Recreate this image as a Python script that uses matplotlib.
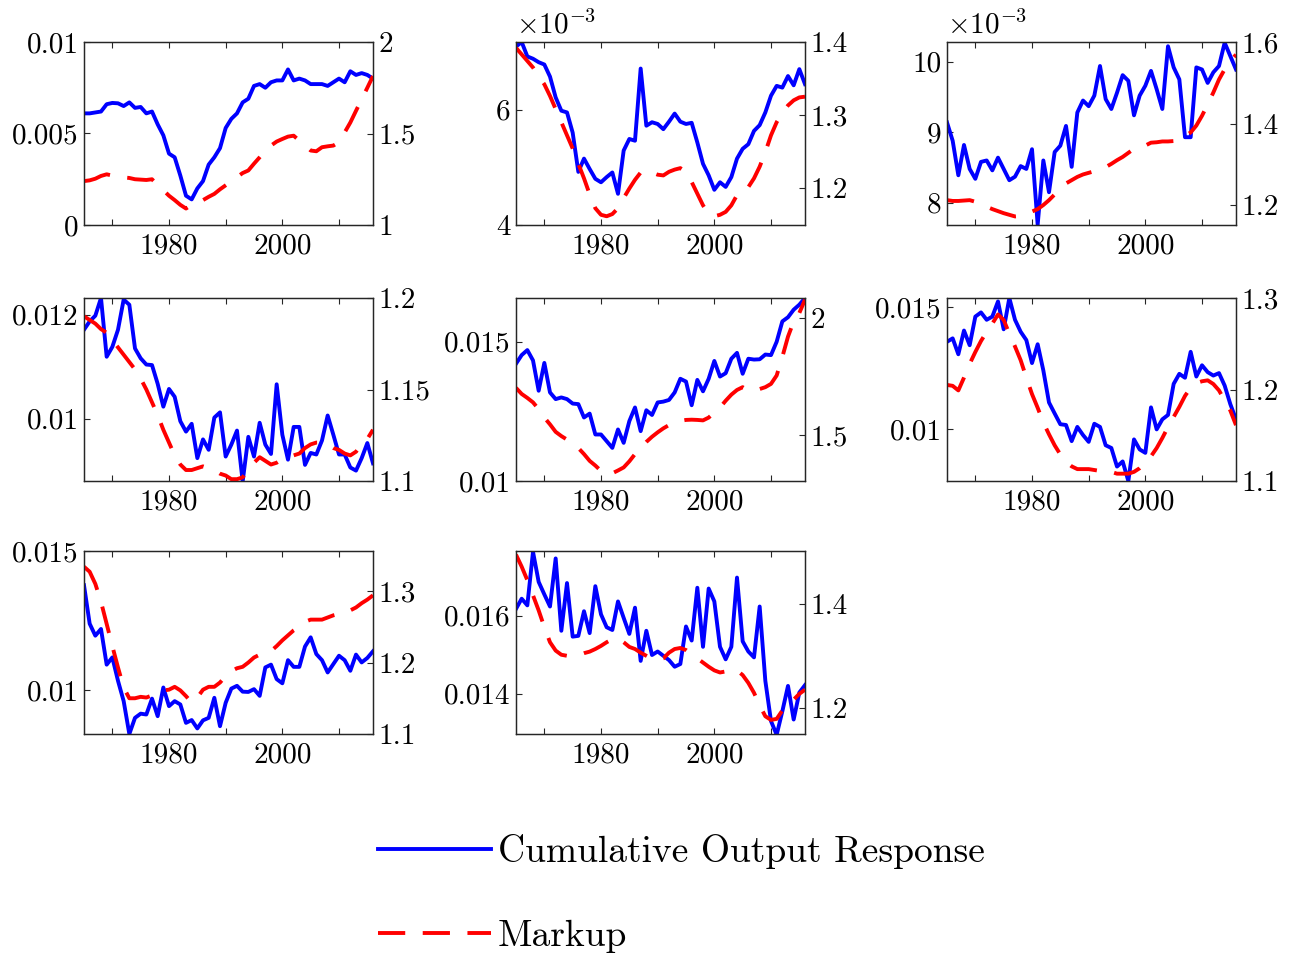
import matplotlib
matplotlib.use("Agg")
import matplotlib.pyplot as plt
import numpy as np

plt.rcParams['font.family'] = 'serif'
plt.rcParams['font.serif'] = ['cmr10']
plt.rcParams['mathtext.fontset'] = 'cm'
plt.rcParams['axes.formatter.use_mathtext'] = True

years = np.arange(1965, 2017)

# blue series, in units of 1e-3
p1_out = [6.1, 6.1, 6.15, 6.2, 6.6, 6.67, 6.65, 6.5, 6.7, 6.4,
          6.45, 6.1, 6.2, 5.5, 4.9, 3.9, 3.7, 2.7, 1.6, 1.4,
          2.0, 2.4, 3.3, 3.7, 4.2, 5.3, 5.8, 6.1, 6.7, 6.9,
          7.6, 7.7, 7.5, 7.8, 7.9, 7.9, 8.5, 7.9, 8.0, 7.9,
          7.7, 7.7, 7.7, 7.6, 7.8, 8.0, 7.8, 8.4, 8.2, 8.3,
          8.2, 8.0]
p2_out = [7.09, 7.17, 6.92, 6.88, 6.82, 6.78, 6.57, 6.21, 5.98, 5.95,
          5.60, 4.92, 5.15, 4.97, 4.80, 4.74, 4.83, 4.91, 4.54, 5.29,
          5.49, 5.46, 6.71, 5.72, 5.78, 5.75, 5.66, 5.79, 5.93, 5.79,
          5.75, 5.77, 5.43, 5.06, 4.86, 4.61, 4.74, 4.66, 4.83, 5.15,
          5.32, 5.40, 5.63, 5.73, 5.95, 6.24, 6.41, 6.38, 6.58, 6.42,
          6.70, 6.44]
p3_out = [9.14, 8.88, 8.39, 8.82, 8.48, 8.34, 8.58, 8.60, 8.46, 8.64,
          8.48, 8.32, 8.37, 8.52, 8.48, 8.76, 7.69, 8.60, 8.15, 8.72,
          8.81, 9.09, 8.51, 9.28, 9.45, 9.37, 9.52, 9.94, 9.47, 9.33,
          9.56, 9.81, 9.73, 9.24, 9.52, 9.66, 9.87, 9.61, 9.33, 10.22,
          9.92, 9.75, 8.93, 8.93, 9.92, 9.89, 9.70, 9.85, 9.94, 10.27,
          10.08, 9.89]
p4_out = [11.71, 11.87, 11.98, 12.32, 11.19, 11.38, 11.71, 12.29, 12.19, 11.35,
          11.16, 11.04, 11.03, 10.67, 10.23, 10.57, 10.42, 9.95, 9.75, 9.90,
          9.24, 9.60, 9.40, 10.02, 10.12, 9.27, 9.50, 9.77, 8.79, 9.65,
          9.27, 9.92, 9.50, 9.32, 10.66, 9.69, 9.21, 9.84, 9.84, 9.11,
          9.34, 9.31, 9.58, 10.06, 9.69, 9.31, 9.31, 9.06, 9.00, 9.24,
          9.53, 9.14]
p5_out = [14.21, 14.52, 14.70, 14.33, 13.24, 14.24, 13.18, 12.94, 13.00, 12.94,
          12.78, 12.76, 12.28, 12.42, 11.67, 11.67, 11.43, 11.19, 11.85, 11.37,
          12.15, 12.64, 11.79, 12.54, 12.37, 12.82, 12.85, 12.91, 13.18, 13.67,
          13.57, 12.72, 13.63, 13.22, 13.67, 14.31, 13.75, 13.87, 14.39, 14.60,
          13.85, 14.39, 14.36, 14.37, 14.54, 14.52, 15.00, 15.73, 15.88, 16.15,
          16.33, 16.57]
p6_out = [13.58, 13.72, 13.07, 14.04, 13.44, 14.61, 14.78, 14.48, 14.61, 15.23,
          14.09, 15.37, 14.48, 13.99, 13.65, 12.71, 13.48, 12.41, 11.10, 10.65,
          10.21, 10.18, 9.52, 10.10, 9.77, 9.49, 10.23, 10.10, 9.35, 9.24,
          8.48, 8.69, 7.89, 9.59, 9.18, 9.04, 10.90, 10.00, 10.41, 10.59,
          11.86, 12.27, 12.11, 13.17, 12.16, 12.62, 12.34, 12.20, 12.30, 11.79,
          11.03, 10.41]
p7_out = [13.77, 12.39, 11.96, 12.20, 10.92, 11.18, 10.34, 9.61, 8.43, 9.01,
          9.16, 9.13, 9.70, 9.07, 10.10, 9.43, 9.61, 9.49, 8.83, 8.93,
          8.63, 8.92, 9.01, 9.73, 8.71, 9.55, 10.06, 10.16, 9.95, 9.94,
          10.04, 9.80, 10.82, 10.92, 10.40, 10.25, 11.08, 10.84, 10.84, 11.57,
          11.90, 11.30, 11.08, 10.64, 10.94, 11.24, 11.08, 10.70, 11.28, 11.00,
          11.16, 11.40]
p8_out = [16.17, 16.43, 16.26, 17.63, 16.86, 16.54, 16.23, 17.46, 15.61, 16.83,
          15.46, 15.48, 16.11, 15.55, 16.75, 16.03, 15.70, 15.63, 16.36, 15.94,
          15.53, 16.20, 14.84, 15.61, 14.99, 15.08, 14.97, 14.86, 14.69, 14.76,
          15.72, 15.36, 16.71, 15.20, 16.69, 16.36, 15.20, 14.88, 15.20, 16.97,
          15.34, 15.08, 14.93, 16.23, 14.33, 13.30, 12.95, 13.55, 14.20, 13.34,
          14.03, 14.22]

# markup series
p1_mk = [1.24, 1.244, 1.253, 1.268, 1.277, 1.27, 1.262, 1.26, 1.257, 1.25,
         1.248, 1.246, 1.25, 1.217, 1.19, 1.16, 1.136, 1.11, 1.09, 1.11,
         1.118, 1.136, 1.154, 1.17, 1.195, 1.217, 1.239, 1.262, 1.284, 1.298,
         1.335, 1.37, 1.407, 1.434, 1.456, 1.47, 1.483, 1.488, 1.461, 1.434,
         1.407, 1.403, 1.425, 1.43, 1.434, 1.452, 1.506, 1.56, 1.624, 1.687,
         1.75, 1.814]
p2_mk = [1.392, 1.383, 1.374, 1.365, 1.353, 1.342, 1.326, 1.308, 1.290, 1.272,
         1.254, 1.233, 1.213, 1.191, 1.172, 1.163, 1.161, 1.164, 1.172, 1.186,
         1.199, 1.211, 1.221, 1.224, 1.221, 1.218, 1.217, 1.222, 1.225, 1.227,
         1.222, 1.208, 1.192, 1.176, 1.164, 1.161, 1.163, 1.167, 1.176, 1.190,
         1.199, 1.201, 1.213, 1.229, 1.249, 1.272, 1.290, 1.303, 1.313, 1.320,
         1.324, 1.325]
p3_mk = [1.212, 1.210, 1.210, 1.211, 1.212, 1.208, 1.202, 1.196, 1.190, 1.185,
         1.180, 1.176, 1.172, 1.173, 1.178, 1.184, 1.190, 1.200, 1.212, 1.226,
         1.241, 1.253, 1.261, 1.269, 1.275, 1.279, 1.283, 1.288, 1.293, 1.301,
         1.310, 1.318, 1.328, 1.338, 1.342, 1.346, 1.353, 1.354, 1.356, 1.356,
         1.357, 1.361, 1.370, 1.378, 1.395, 1.419, 1.447, 1.476, 1.508, 1.533,
         1.553, 1.569]
p4_mk = [1.190, 1.188, 1.186, 1.183, 1.181, 1.177, 1.173, 1.169, 1.165, 1.161,
         1.156, 1.150, 1.143, 1.136, 1.128, 1.121, 1.114, 1.109, 1.106, 1.106,
         1.107, 1.108, 1.107, 1.106, 1.104, 1.103, 1.101, 1.101, 1.102, 1.106,
         1.110, 1.113, 1.111, 1.109, 1.110, 1.112, 1.113, 1.114, 1.115, 1.118,
         1.120, 1.121, 1.121, 1.120, 1.118, 1.117, 1.115, 1.114, 1.116, 1.120,
         1.123, 1.128]
p5_mk = [1.702, 1.676, 1.659, 1.640, 1.611, 1.575, 1.546, 1.514, 1.496, 1.481,
         1.467, 1.445, 1.419, 1.390, 1.370, 1.347, 1.333, 1.337, 1.349, 1.362,
         1.388, 1.419, 1.445, 1.471, 1.493, 1.512, 1.529, 1.543, 1.553, 1.561,
         1.565, 1.566, 1.565, 1.563, 1.575, 1.597, 1.618, 1.647, 1.673, 1.693,
         1.705, 1.690, 1.690, 1.697, 1.705, 1.719, 1.755, 1.834, 1.921, 1.986,
         2.022, 2.079]
p6_mk = [1.205, 1.204, 1.199, 1.213, 1.228, 1.241, 1.253, 1.263, 1.272, 1.282,
         1.276, 1.261, 1.247, 1.232, 1.213, 1.195, 1.180, 1.164, 1.151, 1.139,
         1.129, 1.121, 1.116, 1.113, 1.113, 1.113, 1.112, 1.111, 1.110, 1.110,
         1.108, 1.108, 1.108, 1.110, 1.114, 1.120, 1.127, 1.136, 1.147, 1.159,
         1.170, 1.181, 1.193, 1.202, 1.207, 1.209, 1.210, 1.206, 1.199, 1.188,
         1.177, 1.161]
p7_mk = [1.334, 1.327, 1.310, 1.285, 1.254, 1.223, 1.193, 1.165, 1.150, 1.150,
         1.152, 1.151, 1.154, 1.159, 1.161, 1.162, 1.166, 1.161, 1.153, 1.144,
         1.151, 1.162, 1.166, 1.166, 1.172, 1.181, 1.188, 1.192, 1.194, 1.200,
         1.207, 1.211, 1.213, 1.216, 1.223, 1.231, 1.238, 1.245, 1.250, 1.257,
         1.260, 1.260, 1.260, 1.263, 1.266, 1.268, 1.269, 1.273, 1.277, 1.283,
         1.288, 1.294]
p8_mk = [1.494, 1.471, 1.445, 1.416, 1.387, 1.355, 1.326, 1.310, 1.302, 1.300,
         1.300, 1.301, 1.305, 1.308, 1.313, 1.319, 1.326, 1.332, 1.334, 1.326,
         1.317, 1.313, 1.306, 1.300, 1.294, 1.292, 1.295, 1.306, 1.313, 1.315,
         1.311, 1.303, 1.295, 1.287, 1.279, 1.272, 1.268, 1.270, 1.274, 1.272,
         1.263, 1.248, 1.229, 1.205, 1.184, 1.177, 1.179, 1.195, 1.206, 1.216,
         1.227, 1.235]

# per panel: (output, markup, left ylim, left ticks, left labels, right ylim, right ticks, right labels, x10^-3)
panels = [
    (p1_out, p1_mk, (0, 10), [0, 5, 10], ['0', '0.005', '0.01'], (1, 2), [1, 1.5, 2], ['1', '1.5', '2'], False),
    (p2_out, p2_mk, (4, 7.17), [4, 6], ['4', '6'], (1.149, 1.4), [1.2, 1.3, 1.4], ['1.2', '1.3', '1.4'], True),
    (p3_out, p3_mk, (7.685, 10.28), [8, 9, 10], ['8', '9', '10'], (1.151, 1.6), [1.2, 1.4, 1.6], ['1.2', '1.4', '1.6'], True),
    (p4_out, p4_mk, (8.8, 12.32), [10, 12], ['0.01', '0.012'], (1.1, 1.2), [1.1, 1.15, 1.2], ['1.1', '1.15', '1.2'], False),
    (p5_out, p5_mk, (10, 16.57), [10, 15], ['0.01', '0.015'], (1.304, 2.086), [1.5, 2], ['1.5', '2'], False),
    (p6_out, p6_mk, (7.89, 15.37), [10, 15], ['0.01', '0.015'], (1.1, 1.3), [1.1, 1.2, 1.3], ['1.1', '1.2', '1.3'], False),
    (p7_out, p7_mk, (8.43, 15), [10, 15], ['0.01', '0.015'], (1.1, 1.356), [1.1, 1.2, 1.3], ['1.1', '1.2', '1.3'], False),
    (p8_out, p8_mk, (12.97, 17.65), [14, 16], ['0.014', '0.016'], (1.150, 1.501), [1.2, 1.4], ['1.2', '1.4'], False),
]

W, H = 1294, 956
fig = plt.figure(figsize=(W / 100, H / 100), dpi=100)

col_left = [84, 516, 947]
row_top = [42, 298, 551]
ax_w, ax_h = 289, 183
fs = 21
axcol = '#262626'
lw = 2.8
dash = (0, (7.0, 4.5))

for i, (out, mk, yl, yt, ytl, yr, rt, rtl, sci) in enumerate(panels):
    r, c = divmod(i, 3)
    ax = fig.add_axes([col_left[c] / W, 1 - (row_top[r] + ax_h) / H, ax_w / W, ax_h / H])
    ax.plot(years, out, color='#0000FF', lw=lw, solid_joinstyle='round')
    ax.set_xlim(1965, 2016)
    ax.set_ylim(*yl)
    ax.set_xticks([1970, 1980, 1990, 2000, 2010])
    ax.set_xticklabels(['', '1980', '', '2000', ''])
    ax.set_yticks(yt)
    ax.set_yticklabels(ytl)
    ax.tick_params(direction='in', top=True, length=4, width=0.8, color=axcol,
                   labelsize=fs, pad=4)
    ax.tick_params(axis='x', pad=6)
    for s in ax.spines.values():
        s.set_color(axcol)
        s.set_linewidth(0.9)
    if sci:
        ax.text(0.0, 1.015, r'$\times10^{-3}$', transform=ax.transAxes,
                ha='left', va='bottom', fontsize=fs)

    ax2 = ax.twinx()
    ax2.plot(years, mk, color='#FF0000', lw=lw, ls=dash)
    ax2.set_ylim(*yr)
    ax2.set_yticks(rt)
    ax2.set_yticklabels(rtl)
    ax2.tick_params(direction='in', length=4, width=0.8, color=axcol,
                    labelsize=fs, pad=4)
    for s in ax2.spines.values():
        s.set_color(axcol)
        s.set_linewidth(0.9)

h1 = plt.Line2D([], [], color='#0000FF', lw=lw)
h2 = plt.Line2D([], [], color='#FF0000', lw=lw, ls=dash)
fig.legend([h1, h2], ['Cumulative Output Response', 'Markup'],
           loc='upper left', bbox_to_anchor=(378 / W, 1 - 834 / H),
           frameon=False, fontsize=27, handlelength=3.0, handletextpad=0.2,
           labelspacing=1.35, borderpad=0, borderaxespad=0)

fig.savefig('out.png', dpi=100)
